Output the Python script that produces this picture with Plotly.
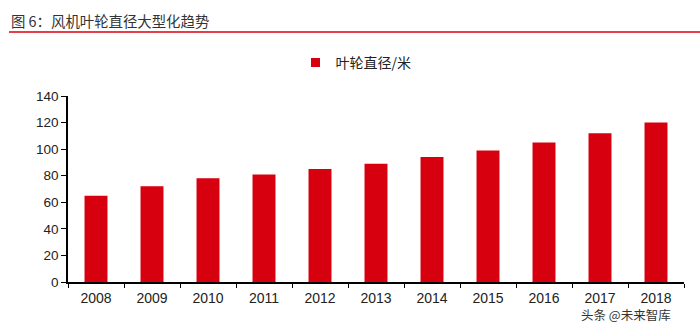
import plotly.graph_objects as go

years = ["2008", "2009", "2010", "2011", "2012", "2013", "2014", "2015", "2016", "2017", "2018"]
diameter = [65, 72, 78, 81, 85, 89, 94, 99, 105, 112, 120]
series_name = "叶轮直径/米"
title_text = "图 6：风机叶轮直径大型化趋势"
y_ticks = [0, 20, 40, 60, 80, 100, 120, 140]

FONT = "Arial, 'Liberation Sans', 'Noto Sans CJK SC', sans-serif"
CJK = "'Noto Sans CJK SC', sans-serif"
RED = "#D7000F"

W, H = 700, 324
L, R, T, B = 68, 16, 96, 42
PW, PH = W - L - R, H - T - B

def px_x(x):
    return (x - L) / PW

def px_y(y):
    return (H - B - y) / PH

fig = go.Figure()
fig.add_trace(go.Bar(
    x=years, y=diameter, name=series_name,
    marker=dict(color=RED, line=dict(width=0)),
    showlegend=False,
))
# legend entry with a small square key, like the reference
fig.add_trace(go.Scatter(
    x=[years[0]], y=[None], mode="markers", name=series_name,
    marker=dict(symbol="square", size=9, color=RED),
    showlegend=True, hoverinfo="skip",
))

fig.update_layout(
    width=W, height=H,
    margin=dict(l=L, r=R, t=T, b=B, autoexpand=False),
    paper_bgcolor="white", plot_bgcolor="white",
    font=dict(family=FONT, size=13, color="#222222"),
    bargap=0.59,
    showlegend=True,
    legend=dict(
        orientation="h", x=px_x(356), xref="paper", xanchor="center",
        y=1 - 63 / H, yref="container", yanchor="middle",
        font=dict(size=14, color="#222222", family=CJK),
        bgcolor="rgba(0,0,0,0)",
    ),
    xaxis=dict(
        type="category",
        range=[-0.5, len(years) - 0.5],
        showline=True, linecolor="#000000", linewidth=1.5,
        ticks="outside", ticklen=4, tickcolor="#000000", tickwidth=1.2,
        tickson="boundaries",
        showgrid=False, zeroline=False,
        ticklabelstandoff=2,
        tickfont=dict(size=14, color="#222222"),
        automargin=False,
    ),
    yaxis=dict(
        range=[0, 140],
        tickvals=y_ticks,
        ticksuffix=" ",
        showline=True, linecolor="#000000", linewidth=1.5,
        ticks="outside", ticklen=5, tickcolor="#000000", tickwidth=1.2,
        showgrid=False, zeroline=False,
        tickfont=dict(size=13.5, color="#222222"),
        automargin=False,
    ),
)

# Title and red rule
fig.add_annotation(
    text=title_text, xref="paper", yref="paper",
    x=px_x(9), xanchor="left",
    y=px_y(21), yanchor="middle",
    showarrow=False,
    font=dict(size=14.4, color="#333333", family=CJK),
)
fig.add_shape(
    type="line", xref="paper", yref="paper",
    x0=px_x(9), x1=px_x(700),
    y0=px_y(32), y1=px_y(32),
    line=dict(color=RED, width=1.5),
)

# Watermark
fig.add_annotation(
    text="头条 @未来智库", xref="paper", yref="paper",
    x=px_x(626), xanchor="center",
    y=px_y(314), yanchor="middle",
    showarrow=False, borderpad=0,
    font=dict(size=12.5, color="#333333", family=CJK),
)

fig.write_html("out.html")
